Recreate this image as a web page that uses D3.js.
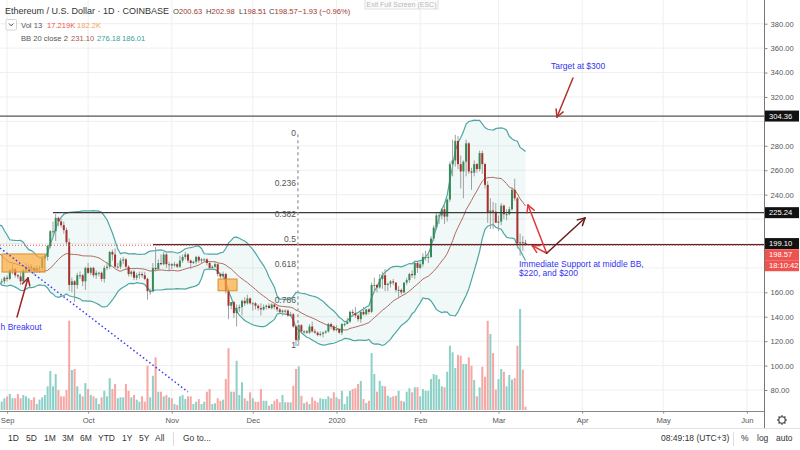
<!DOCTYPE html>
<html><head><meta charset="utf-8">
<script src="https://cdn.jsdelivr.net/npm/d3@7"></script>
<style>
html,body{margin:0;padding:0;background:#fff;}
svg{display:block;font-family:"Liberation Sans",Arial,sans-serif;}
</style></head><body>
<svg id="c" width="800" height="450"></svg>
<script>
// ---------------- DATA ----------------
const startDate = "2019-08-09"; // first daily candle (UTC), one candle per day
const open = [
 219,211,206,216,211,208,187,187,185,185,194,202,197,187,191,194,189,186,187,186,173,169,169,
 172,171,178,179,174,173,169,178,181,181,180,178,180,180,188,189,198,210,210,221,218,215,211,201,166,169,166,174,174,169,
 180,176,180,174,176,176,171,180,181,193,191,181,181,186,187,181,175,177,172,174,175,174,171,161,161,180,179,184,183,191,183,
 183,182,183,181,186,189,191,186,184,185,189,186,187,187,184,180,181,183,175,173,175,161,149,152,143,147,148,153,151,155,
 151,151,149,147,146,148,149,147,150,148,146,144,145,145,141,142,132,121,133,128,128,127,132,128,127,125,126,127,128,134,132,
 129,130,127,134,134,136,144,143,141,138,144,142,146,144,166,166,164,171,174,166,167,169,168,162,162,160,168,170,175,174,184,
 180,183,189,189,189,204,213,223,223,228,222,236,265,268,284,265,259,267,282,259,258,265,261,274,265,248,225,227,226,
 217,218,231,224,224,228,244,237,200,201,200.63];
const high = [
 219,212,217,217,214,209,190,189,187,196,206,203,198,193,196,195,191,191,189,187,174,171,173,
 174,179,183,180,175,176,179,184,183,183,181,182,182,189,191,199,211,218,224,222,220,218,213,204,172,170,176,177,175,181,
 184,181,181,178,177,177,182,185,194,195,196,184,188,189,188,182,178,178,176,177,177,177,172,163,184,197,187,191,193,192,185,
 184,185,184,190,191,193,192,187,186,190,190,188,188,188,185,182,185,184,176,177,176,163,152,153,150,150,154,156,158,156,
 152,152,150,151,150,150,151,151,151,149,147,146,146,146,144,143,133,134,134,129,129,134,136,130,128,128,128,129,135,135,133,
 133,130,135,135,139,145,146,148,142,145,148,146,147,168,172,167,175,177,179,168,170,171,168,165,163,168,172,176,178,186,185,
 185,192,194,192,206,215,225,226,229,231,237,267,285,289,288,272,268,285,283,262,268,266,276,276,266,251,237,234,233,
 223,233,232,228,230,246,253,238,208,206,202.98];
const low = [
 208,199,204,209,205,184,180,179,182,184,193,195,183,182,189,184,182,185,183,170,165,166,167,
 169,170,175,172,171,166,168,176,177,177,174,176,176,178,187,186,196,206,202,214,213,208,199,161,160,152,163,171,165,162,
 175,174,172,171,173,169,168,178,179,186,180,179,179,183,179,173,173,170,170,171,172,170,154,158,160,177,178,182,182,180,177,
 179,181,180,180,184,187,184,179,183,183,184,184,185,182,178,179,180,173,171,171,159,138,146,139,132,144,141,149,150,150,
 145,146,145,141,145,146,147,146,146,144,142,141,143,140,140,131,116,117,126,126,126,126,127,126,124,124,123,126,127,130,128,
 128,126,125,132,134,135,140,139,136,135,141,141,142,143,160,160,163,163,161,161,164,166,160,155,158,159,166,168,172,171,176,
 179,181,186,184,188,202,211,216,220,216,218,234,255,263,261,245,237,255,257,244,255,258,259,257,245,217,212,212,217,
 210,215,220,219,223,227,235,196,190,194,198.51];
const close = [
 211,206,216,211,208,187,187,185,185,194,202,197,187,191,194,189,186,187,186,173,169,169,172,
 171,178,179,174,173,169,178,181,181,180,178,180,180,188,189,198,210,210,221,218,215,211,201,166,169,166,174,174,169,180,
 176,180,174,176,176,171,180,181,193,191,181,181,186,187,181,175,177,172,174,175,174,171,161,161,180,179,184,183,191,183,183,
 182,183,181,186,189,191,186,184,185,189,186,187,187,184,180,181,183,175,173,175,161,149,152,143,147,148,153,151,155,151,
 151,149,147,146,148,149,147,150,148,146,144,145,145,141,142,132,121,133,128,128,127,132,128,127,125,126,127,128,134,132,129,
 130,127,134,134,136,144,143,141,138,144,142,146,144,166,166,164,171,174,166,167,169,168,162,162,160,168,170,175,174,184,180,
 183,189,189,189,204,213,223,223,228,222,236,265,268,284,265,259,267,282,259,258,265,261,274,265,248,225,227,226,217,
 218,231,224,224,228,244,237,200,201,200.5,198.57];
const volume = [ // thousands of ETH
 80,70,65,72,90,150,110,95,60,75,100,85,90,70,65,55,60,62,58,66,43,43,61,
 71,83,61,61,83,61,78,71,61,52,66,31,54,66,78,123,203,123,187,104,71,71,104,464,208,213,123,83,71,140,
 109,78,71,61,31,66,100,71,165,109,135,61,66,66,135,100,66,78,54,43,71,43,230,66,178,274,95,95,71,78,66,
 61,31,26,71,78,57,71,71,31,43,57,31,43,95,109,31,35,61,48,54,161,321,95,95,256,78,144,61,48,92,
 61,43,43,109,48,48,22,31,48,57,40,78,40,40,40,126,213,227,74,35,43,31,66,48,40,61,57,57,71,61,92,
 66,57,100,31,71,100,109,113,135,151,57,36,48,296,187,95,152,126,123,74,66,71,74,100,48,43,95,113,92,118,118,
 71,109,100,100,161,187,182,161,123,118,199,334,300,218,286,282,239,239,274,230,156,71,118,225,173,464,395,296,106,
 161,213,199,123,182,158,166,334,525,210,17.219];

const priceTicks = [80,100,120,140,160,180,200,220,240,260,280,300,320,340,360,380];
const monthTicks = ["2019-09-01","2019-10-01","2019-11-01","2019-12-01","2020-01-01","2020-02-01","2020-03-01","2020-04-01","2020-05-01","2020-06-01"];
const monthLabels = ["Sep","Oct","Nov","Dec","2020","Feb","Mar","Apr","May","Jun"];

const levels = [ // horizontal rays
 {price:304.36, from:"2019-08-20T00:00Z", color:"#555555"},
 {price:225.24, from:"2019-09-18T00:00Z", color:"#3a3a3a"},
 {price:199.10, from:"2019-10-25T01:00Z", color:"#4a2626"}
];
const fibLevels = [0,0.236,0.382,0.5,0.618,0.786,1];
const fibHigh = 289.5, fibLow = 116, fibDate = "2019-12-17T17:00Z";
const boxes = [
 {t0:"2019-08-30T03:00Z", t1:"2019-09-15T01:00Z", p0:176.6, p1:191.4},
 {t0:"2019-11-18T03:00Z", t1:"2019-11-25T04:00Z", p0:161.3, p1:170.9}
];
const trendLine = {t0:"2019-08-29T09:00Z", p0:196.3, t1:"2019-11-07T00:00Z", p1:78.4};
const arrows = [
 {from:["2020-03-28T14:00Z",335.5], to:["2020-03-22T16:00Z",303.6], color:"#b03030"},
 {from:["2020-03-18T20:00Z",192.0], to:["2020-03-11T22:00Z",231.5], color:"#e0383a"},
 {from:["2020-03-18T20:00Z",192.0], to:["2020-03-13T12:00Z",198.2], color:"#e0383a"},
 {from:["2020-03-18T20:00Z",192.0], to:["2020-04-02T01:00Z",220.9], color:"#6b1d1d"},
 {from:["2019-09-04T16:00Z",139.8], to:["2019-09-08T18:00Z",171.7], color:"#a52222"}
];
const notes = [
 {t:"2020-03-20T10:00Z", p:342.9, lines:["Target at $300"]},
 {t:"2020-03-08T14:00Z", p:180.7, lines:["Immediate Support at middle BB,","$220, and $200"]},
 {t:"2019-08-29T14:00Z", p:129.1, lines:["h Breakout"]}
];

// ---------------- SETUP ----------------
const svg = d3.select("#c");
const paneR = 764, paneB = 411;
const x = d3.scaleUtc()
  .domain([new Date("2019-09-01T00:00Z"), new Date("2020-03-01T00:00Z")])
  .range([7.1, 498.5]);
const y = d3.scaleLinear().domain([80,380]).range([390,23.7]);
const yv = d3.scaleLinear().domain([0,525]).range([410,309]);
const t0 = new Date(startDate+"T00:00Z");
const data = close.map((c,i)=>({date:d3.utcDay.offset(t0,i), o:open[i], h:high[i], l:low[i], c, v:volume[i]}));
const T = s => new Date(s);

// Bollinger Bands (20, 2)
const bb = [];
data.forEach((d,i)=>{
  if(i<19) return;
  const w = close.slice(i-19,i+1);
  const m = d3.mean(w);
  const sd = Math.sqrt(d3.mean(w.map(v=>(v-m)*(v-m))));
  bb.push({date:d.date, m, u:m+2*sd, lo:m-2*sd});
});

svg.append("defs").append("clipPath").attr("id","pane")
  .append("rect").attr("x",0).attr("y",0).attr("width",paneR).attr("height",paneB);
const pane = svg.append("g").attr("clip-path","url(#pane)");

// grid
pane.append("g").selectAll("line").data(priceTicks).join("line")
  .attr("x1",0).attr("x2",paneR).attr("y1",d=>y(d)).attr("y2",d=>y(d))
  .attr("stroke","#efefef").attr("stroke-width",1);
pane.append("g").selectAll("line").data(monthTicks).join("line")
  .attr("x1",d=>x(T(d+"T00:00Z"))).attr("x2",d=>x(T(d+"T00:00Z")))
  .attr("y1",0).attr("y2",paneB).attr("stroke","#efefef").attr("stroke-width",1);

// volume
const bw = 2;
pane.append("g").selectAll("rect").data(data).join("rect")
  .attr("x",d=>x(d.date)-bw/2).attr("width",bw)
  .attr("y",d=>yv(d.v)).attr("height",d=>yv(0)-yv(d.v))
  .attr("fill",d=>d.c>=d.o?"#8dd0c7":"#f6a6a3");

// BB fill + lines
pane.append("path").datum(bb)
  .attr("d",d3.area().x(d=>x(d.date)).y0(d=>y(d.lo)).y1(d=>y(d.u)))
  .attr("fill","rgba(38,166,154,0.07)");
pane.append("path").datum(bb).attr("d",d3.line().x(d=>x(d.date)).y(d=>y(d.u)))
  .attr("fill","none").attr("stroke","#4ea6a4").attr("stroke-width",1.2);
pane.append("path").datum(bb).attr("d",d3.line().x(d=>x(d.date)).y(d=>y(d.lo)))
  .attr("fill","none").attr("stroke","#4ea6a4").attr("stroke-width",1.2);
pane.append("path").datum(bb).attr("d",d3.line().x(d=>x(d.date)).y(d=>y(d.m)))
  .attr("fill","none").attr("stroke","#b06a64").attr("stroke-width",1);

// candles
const cg = pane.append("g");
cg.selectAll("line").data(data).join("line")
  .attr("x1",d=>x(d.date)).attr("x2",d=>x(d.date))
  .attr("y1",d=>y(d.h)).attr("y2",d=>y(d.l))
  .attr("stroke","#a0a0a0").attr("stroke-width",1);
cg.selectAll("rect").data(data).join("rect")
  .attr("x",d=>x(d.date)-1).attr("width",2)
  .attr("y",d=>y(Math.max(d.o,d.c)))
  .attr("height",d=>Math.max(1,Math.abs(y(d.o)-y(d.c))))
  .attr("fill",d=>d.c>=d.o?"#378a57":"#a8302b");

// horizontal rays
pane.append("g").selectAll("line").data(levels).join("line")
  .attr("x1",d=>x(T(d.from))).attr("x2",paneR)
  .attr("y1",d=>y(d.price)).attr("y2",d=>y(d.price))
  .attr("stroke",d=>d.color).attr("stroke-width",1.2);
// last price line
const last = data[data.length-1];
pane.append("line").attr("x1",0).attr("x2",paneR).attr("y1",y(last.c)).attr("y2",y(last.c))
  .attr("stroke","#ef5350").attr("stroke-width",1).attr("stroke-dasharray","1,2");

// fib
pane.append("line").attr("x1",x(T(fibDate))).attr("x2",x(T(fibDate)))
  .attr("y1",y(fibHigh)).attr("y2",y(fibLow))
  .attr("stroke","#a8a8a8").attr("stroke-width",1.5).attr("stroke-dasharray","3,3");
pane.append("g").selectAll("text").data(fibLevels).join("text")
  .attr("x",x(T(fibDate))-2).attr("y",d=>y(fibHigh-(fibHigh-fibLow)*d)-1)
  .attr("dy","0.35em").attr("text-anchor","end").attr("font-size",8.5).attr("fill","#555")
  .text(d=>d===0?"0":d===1?"1":String(d));

// boxes
pane.append("g").selectAll("rect").data(boxes).join("rect")
  .attr("x",d=>x(T(d.t0))).attr("width",d=>x(T(d.t1))-x(T(d.t0)))
  .attr("y",d=>y(d.p1)).attr("height",d=>y(d.p0)-y(d.p1))
  .attr("fill","rgba(255,170,60,0.7)").attr("stroke","#d9902c").attr("stroke-width",1);

// dotted trend line
pane.append("line")
  .attr("x1",x(T(trendLine.t0))).attr("y1",y(trendLine.p0))
  .attr("x2",x(T(trendLine.t1))).attr("y2",y(trendLine.p1))
  .attr("stroke","#3b3bf5").attr("stroke-width",1.5).attr("stroke-dasharray","1.5,2.5");

// arrows
arrows.forEach(a=>{
  const x1=x(T(a.from[0])), y1=y(a.from[1]), x2=x(T(a.to[0])), y2=y(a.to[1]);
  const g = pane.append("g").attr("stroke",a.color).attr("stroke-width",1.5).attr("fill","none").attr("stroke-linecap","round");
  g.append("line").attr("x1",x1).attr("y1",y1).attr("x2",x2).attr("y2",y2);
  const ang = Math.atan2(y2-y1,x2-x1), L=8;
  [0.5,-0.5].forEach(s=>{
    g.append("line").attr("x1",x2).attr("y1",y2)
      .attr("x2",x2-L*Math.cos(ang+s)).attr("y2",y2-L*Math.sin(ang+s));
  });
});

// notes
notes.forEach(n=>{
  const t = pane.append("text").attr("x",x(T(n.t))).attr("y",y(n.p))
    .attr("font-size",8.5).attr("fill","#3434f2");
  n.lines.forEach((l,i)=>t.append("tspan").attr("x",x(T(n.t))).attr("dy",i?9:0).text(l));
});

// ---------------- AXES ----------------
svg.append("line").attr("x1",paneR+0.5).attr("x2",paneR+0.5).attr("y1",0).attr("y2",428).attr("stroke","#777");
svg.append("line").attr("x1",0).attr("x2",paneR).attr("y1",paneB+0.5).attr("y2",paneB+0.5).attr("stroke","#888");
svg.append("line").attr("x1",0).attr("x2",800).attr("y1",428.5).attr("y2",428.5).attr("stroke","#e2e2e2");

// price tags on the axis
const tags = [
 {v:304.36, txt:"304.36", fill:"#111", dy:0},
 {v:225.24, txt:"225.24", fill:"#111", dy:0},
 {v:199.10, txt:"199.10", fill:"#111", dy:-1},
 {v:198.57, txt:"198.57", fill:"#ef5350", dy:9.5},
 {v:198.57, txt:"18:10:42", fill:"#ef5350", dy:20.5}
];
const tagY = tags.map(t=>y(t.v)+t.dy);
// tick labels hidden where a tag covers them
const visibleTicks = priceTicks.filter(p=>tagY.every(ty=>Math.abs(y(p)-ty)>9));

const yAxis = svg.append("g").attr("transform",`translate(${paneR+0.5},0)`)
  .call(d3.axisRight(y).tickValues(visibleTicks).tickSize(3).tickPadding(3).tickFormat(d3.format(".2f")));
yAxis.select(".domain").remove();
yAxis.selectAll("line").attr("stroke","#888");
yAxis.selectAll("text").attr("font-size",7.6).attr("fill","#555").attr("font-family","Liberation Sans, Arial");

const xAxis = svg.append("g").attr("transform",`translate(0,${paneB+0.5})`)
  .call(d3.axisBottom(x).tickValues(monthTicks.map(d=>T(d+"T00:00Z"))).tickSize(2).tickPadding(4)
    .tickFormat((d,i)=>monthLabels[i]));
xAxis.select(".domain").remove();
xAxis.selectAll("line").attr("stroke","#888");
xAxis.selectAll("text").attr("font-size",7.6).attr("fill","#555").attr("font-family","Liberation Sans, Arial");

tags.forEach((t,i)=>{
  const cy = tagY[i];
  svg.append("rect").attr("x",paneR+1).attr("y",cy-5.5).attr("width",34).attr("height",11).attr("fill",t.fill);
  svg.append("text").attr("x",paneR+5).attr("y",cy).attr("dy","0.35em").attr("font-size",7.6)
    .attr("fill","#fff").text(t.txt);
});

// gear icon
const gear = svg.append("g").attr("transform","translate(782,420)").attr("stroke","#444").attr("fill","none");
gear.append("circle").attr("r",3.2).attr("stroke-width",1.1);
d3.range(8).forEach(k=>{const a=k*Math.PI/4;
  gear.append("line").attr("x1",3.2*Math.cos(a)).attr("y1",3.2*Math.sin(a)).attr("x2",4.8*Math.cos(a)).attr("y2",4.8*Math.sin(a)).attr("stroke-width",1.4);});

// ---------------- HEADER ----------------
const hdr = svg.append("g");
const htxt = (xp,yp,s,c,fs)=>hdr.append("text").attr("x",xp).attr("y",yp).attr("fill",c).attr("font-size",fs).text(s);
htxt(5,14,"Ethereum / U.S. Dollar · 1D · COINBASE","#333",9);
const ohlcCol = "#a0392d";
[["O","200.63",173],["H","202.98",206],["L","198.51",239],["C","198.57",269]].forEach(([k,v,xp])=>{
  const t = hdr.append("text").attr("x",xp).attr("y",14).attr("fill","#444").attr("font-size",7.6);
  t.append("tspan").text(k); t.append("tspan").attr("fill",ohlcCol).text(v);
});
htxt(298,14,"−1.93 (−0.96%)",ohlcCol,7.6);
hdr.append("rect").attr("x",6).attr("y",19.5).attr("width",10.5).attr("height",10.5).attr("fill","#fff").attr("stroke","#d6d6d6").attr("rx",1);
hdr.append("path").attr("d","M9,23.5 L11.2,25.8 L13.4,23.5").attr("stroke","#444").attr("fill","none").attr("stroke-width",1);
htxt(21,28,"Vol 13","#555",7.6);
htxt(47,28,"17.219K","#ef5350",7.6);
htxt(77,28,"182.2K","#f5a15a",7.6);
htxt(21,41,"BB 20 close 2","#555",7.6);
htxt(71,41,"231.10","#a85650",7.6);
htxt(97,41,"276.18","#3a9f9c",7.6);
htxt(122,41,"186.01","#3a9f9c",7.6);

// exit full screen
svg.append("rect").attr("x",365).attr("y",-2).attr("width",73).attr("height",11).attr("fill","#fbfbfb").attr("stroke","#e0e0e0");
svg.append("text").attr("x",401.5).attr("y",6.5).attr("text-anchor","middle").attr("font-size",7).attr("fill","#b8b8b8").text("Exit Full Screen (ESC)");

// ---------------- TOOLBAR ----------------
const rangesTxt = ["1D","5D","1M","3M","6M","YTD","1Y","5Y","All"];
const rangesX = [8,26,44,62,80,98,122,139,155];
const tb = svg.append("g").attr("font-size",8.5).attr("fill","#333");
rangesTxt.forEach((s,i)=>tb.append("text").attr("x",rangesX[i]).attr("y",441).text(s));
svg.append("line").attr("x1",173.5).attr("x2",173.5).attr("y1",432).attr("y2",446).attr("stroke","#ddd");
tb.append("text").attr("x",183).attr("y",441).text("Go to...");
tb.append("text").attr("x",661).attr("y",441).text("08:49:18 (UTC+3)");
svg.append("line").attr("x1",733.5).attr("x2",733.5).attr("y1",432).attr("y2",446).attr("stroke","#ddd");
tb.append("text").attr("x",741).attr("y",441).text("%");
tb.append("text").attr("x",757).attr("y",441).text("log");
tb.append("text").attr("x",776).attr("y",441).text("auto");
</script>
</body></html>
